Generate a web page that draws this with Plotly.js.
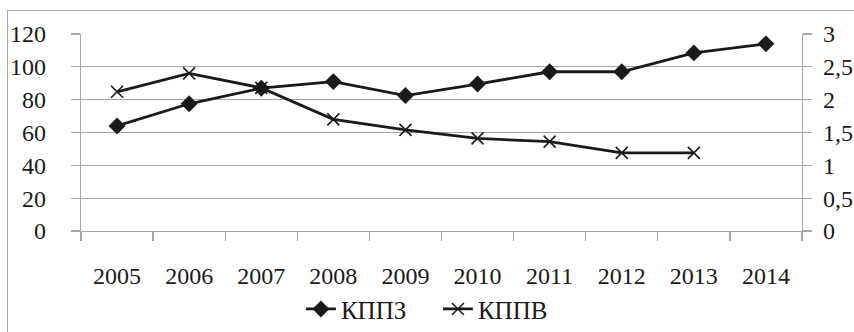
<!DOCTYPE html>
<html>
<head>
<meta charset="utf-8">
<script src="https://cdn.plot.ly/plotly-3.0.1.min.js"></script>
<style>
  html, body { margin: 0; padding: 0; background: #fff; }
  #wrap { position: relative; width: 854px; height: 332px; overflow: hidden; }
  #chart { position: absolute; left: 0; top: 0; width: 854px; height: 332px; }
  #frame { position: absolute; left: 7px; top: 10px; width: 900px; height: 400px;
           border: 1.5px solid #a6a6a6; box-sizing: border-box; pointer-events: none; }
</style>
</head>
<body>
<div id="wrap">
  <div id="chart"></div>
  <div id="frame"></div>
</div>
<script>
const years = ['2005','2006','2007','2008','2009','2010','2011','2012','2013','2014'];
const kppzName = 'КППЗ';
const kppvName = 'КППВ';
const kppz = [64, 77.5, 87, 91, 82.5, 89.5, 97, 97, 108.5, 114];
const kppv = [2.12, 2.40, 2.18, 1.70, 1.54, 1.41, 1.36, 1.19, 1.19, null];
const leftTicks = [0, 20, 40, 60, 80, 100, 120];
const rightTickVals = [0, 0.5, 1, 1.5, 2, 2.5, 3];
const rightTickText = ['0', '0,5', '1', '1,5', '2', '2,5', '3'];

const font = {family: 'Liberation Serif, Times New Roman, serif', size: 24, color: '#1a1a1a'};
const legendFont = {family: 'Liberation Serif, Times New Roman, serif', size: 25, color: '#1a1a1a'};

const traces = [
  {
    x: years, y: kppz, name: kppzName, type: 'scatter', mode: 'lines+markers',
    line: {color: '#1a1a1a', width: 2.8},
    marker: {symbol: 'diamond', size: 13, color: '#1a1a1a'},
    yaxis: 'y'
  },
  {
    x: years, y: kppv, name: kppvName, type: 'scatter', mode: 'lines+markers',
    line: {color: '#1a1a1a', width: 2.8},
    marker: {symbol: 'x-thin-open', size: 12, line: {color: '#1a1a1a', width: 1.6}},
    yaxis: 'y2', connectgaps: false
  }
];

const layout = {
  width: 854, height: 332,
  margin: {l: 81, r: 52, t: 33.5, b: 101.3, pad: 0, autoexpand: false},
  paper_bgcolor: '#ffffff', plot_bgcolor: '#ffffff',
  font: font,
  showlegend: true,
  legend: {
    orientation: 'h', x: 0.305, xanchor: 'left', y: -0.397, yanchor: 'middle',
    font: legendFont, bgcolor: 'rgba(0,0,0,0)', traceorder: 'normal', itemwidth: 30,
    entrywidth: 92, entrywidthmode: 'pixels'
  },
  xaxis: {
    type: 'category', range: [-0.5, 9.5], autorange: false, tickson: 'boundaries',
    ticks: 'outside', ticklen: 9,
    tickcolor: '#a6a6a6', tickwidth: 1.3, showgrid: false, showline: true,
    linecolor: '#a6a6a6', linewidth: 1.3, tickfont: font, ticklabelstandoff: 23,
    zeroline: false, fixedrange: true, automargin: false
  },
  yaxis: {
    range: [0, 120], autorange: false, tickvals: leftTicks, ticks: 'outside', ticklen: 9,
    tickcolor: '#a6a6a6', tickwidth: 1.3, showgrid: true, gridcolor: '#a6a6a6', gridwidth: 1.3,
    showline: true, linecolor: '#a6a6a6', linewidth: 1.3, zeroline: false,
    tickfont: font, ticklabelstandoff: 20, automargin: false
  },
  yaxis2: {
    range: [0, 3], autorange: false, tickvals: rightTickVals, ticktext: rightTickText,
    overlaying: 'y', side: 'right',
    ticks: 'outside', ticklen: 9, tickcolor: '#a6a6a6', tickwidth: 1.3, showgrid: false,
    showline: true, linecolor: '#a6a6a6', linewidth: 1.3, zeroline: false,
    tickfont: font, ticklabelstandoff: 6, automargin: false
  }
};

Plotly.newPlot('chart', traces, layout, {displayModeBar: false, staticPlot: true});
</script>
</body>
</html>
